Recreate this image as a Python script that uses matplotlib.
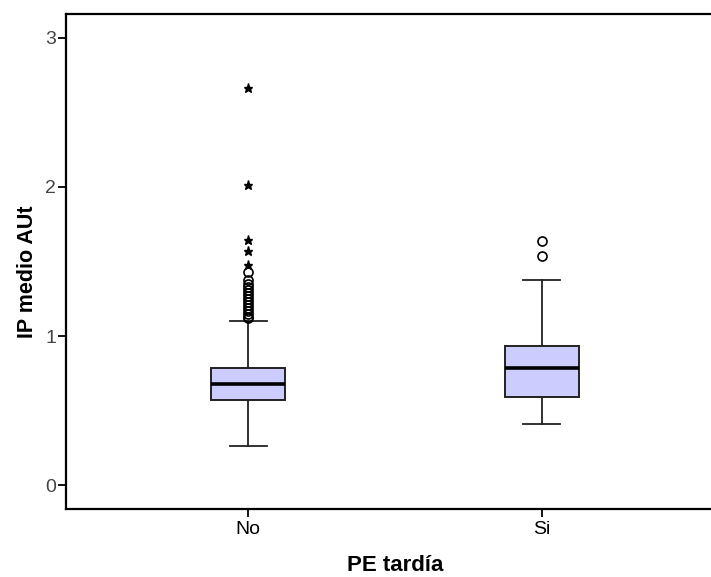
import numpy as np
import matplotlib
matplotlib.use("Agg")
import matplotlib.pyplot as plt

plt.rcParams['font.family'] = ['Liberation Sans', 'DejaVu Sans']

groups = ['No', 'Si']
q1 = [0.570, 0.591]
med = [0.678, 0.785]
q3 = [0.785, 0.933]
whis_lo = [0.262, 0.409]
whis_hi = [1.100, 1.376]

# outliers (circles) and extremes (stars)
out_no = [1.43, 1.376, 1.35, 1.33, 1.31, 1.29, 1.27, 1.25, 1.23, 1.21,
          1.19, 1.17, 1.15, 1.13, 1.12]
out_si = [1.638, 1.537]
ext_no = [2.664, 2.013, 1.644, 1.570, 1.477]
ext_si = []

fig = plt.figure(figsize=(7.11, 5.77), dpi=100)
ax = fig.add_axes([0.0928, 0.1179, 0.9255, 0.8579])

stats = []
for i in range(len(groups)):
    stats.append(dict(med=med[i], q1=q1[i], q3=q3[i], whislo=whis_lo[i],
                      whishi=whis_hi[i], fliers=[out_no, out_si][i]))

ax.bxp(stats, positions=[0, 1], widths=0.252, patch_artist=True,
       boxprops=dict(facecolor='#ccccff', edgecolor='#222222', linewidth=1.4),
       medianprops=dict(color='black', linewidth=2.6),
       whiskerprops=dict(color='#222222', linewidth=1.3),
       capprops=dict(color='#222222', linewidth=1.3),
       flierprops=dict(marker='o', markerfacecolor='none', markeredgecolor='black',
                       markersize=6.5, markeredgewidth=1.2))

for i, ext in enumerate([ext_no, ext_si]):
    if ext:
        ax.plot([i] * len(ext), ext, linestyle='none', marker='*', color='black',
                markersize=6.5)

ax.set_xlim(-0.62, 1.62)
ax.set_ylim(-0.16, 3.16)
ax.set_xticks([0, 1])
ax.set_xticklabels(groups)
ax.set_yticks([0, 1, 2, 3])
ax.set_yticklabels(['0', '1', '2', '3'])

for s in ['left', 'top', 'bottom', 'right']:
    ax.spines[s].set_linewidth(1.6)
    ax.spines[s].set_color('black')

ax.tick_params(axis='both', direction='out', length=6, width=1.3, labelsize=14)
ax.tick_params(axis='x', pad=3)
ax.tick_params(axis='y', labelcolor='#444444', pad=1)

ax.set_xlabel('PE tardía', fontsize=16, fontweight='bold', labelpad=12)
ax.set_ylabel('IP medio AUt', fontsize=15.5, fontweight='bold', labelpad=5)
ax.yaxis.set_label_coords(-0.043, 0.48)

fig.savefig('out.png', dpi=100)
